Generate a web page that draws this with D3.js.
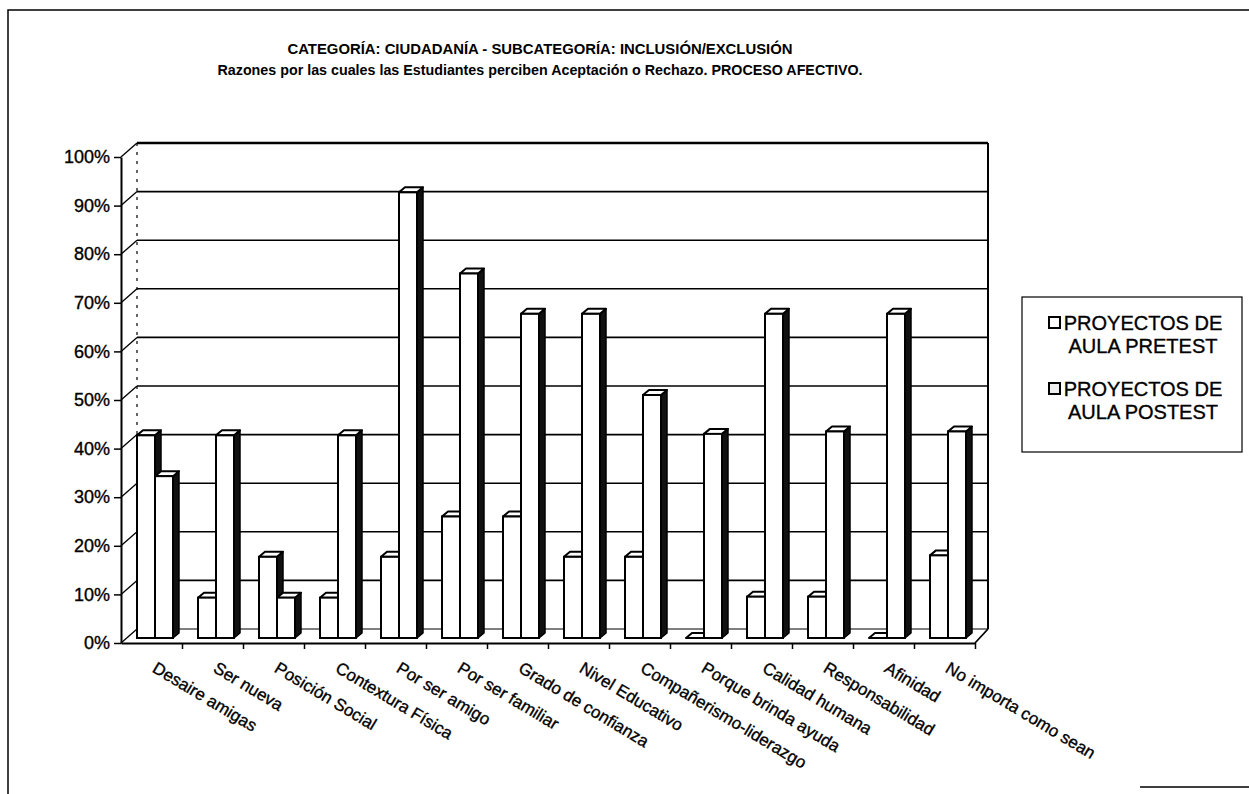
<!DOCTYPE html>
<html>
<head>
<meta charset="utf-8">
<script src="https://cdn.jsdelivr.net/npm/d3@7"></script>
<style>
  body { margin: 0; background: #fff; }
  svg { display: block; font-family: "Liberation Sans", Arial, sans-serif; }
  /* scanned print looks heavier than plain regular weight */
  .heavy { stroke: #000; stroke-width: 0.35px; }
</style>
</head>
<body>
<div id="viz"></div>
<script>
// data
var categories = [
  "Desaire amigas", "Ser nueva", "Posición Social", "Contextura Física",
  "Por ser amigo", "Por ser familiar", "Grado de confianza", "Nivel Educativo",
  "Compañerismo-liderazgo", "Porque brinda ayuda", "Calidad humana",
  "Responsabilidad", "Afinidad", "No importa como sean"
];
var pretest = [41.7, 8.3, 16.7, 8.3, 16.7, 25, 25, 16.7, 16.7, 0, 8.5, 8.5, 0, 17];
var postest = [33.3, 41.7, 8.3, 41.7, 91.7, 75, 66.7, 66.7, 50, 42, 66.7, 42.5, 66.7, 42.5];
var seriesNames = [["PROYECTOS DE", "AULA PRETEST"], ["PROYECTOS DE", "AULA POSTEST"]];
var yTicks = [0, 10, 20, 30, 40, 50, 60, 70, 80, 90, 100];
var titleLines = [
  "CATEGORÍA: CIUDADANÍA - SUBCATEGORÍA: INCLUSIÓN/EXCLUSIÓN",
  "Razones por las cuales las Estudiantes perciben Aceptación o Rechazo. PROCESO AFECTIVO."
];

var W = 1249, H = 794;
var plotLeft = 121, plotRight = 975, plotBase = 643, plotTop = 157;
var wallDx = 16, wallDy = 14;     // depth of the back wall
var barDx = 6, barDy = 5;         // depth of each column
var barBase = 638;

var svg = d3.select("#viz").append("svg").attr("width", W).attr("height", H);

// outer frame (scan: left + top, bit of bottom right)
svg.append("path")
  .attr("d", "M8,794 L8,10 L1249,10 M1140,787 L1249,787")
  .attr("fill", "none").attr("stroke", "#000").attr("stroke-width", 1.5);

// titles
svg.selectAll("text.title")
  .data(titleLines)
  .enter().append("text")
  .attr("class", "title")
  .attr("x", 540)
  .attr("y", function (d, i) { return 54 + i * 21; })
  .attr("text-anchor", "middle")
  .attr("textLength", function (d, i) { return i == 0 ? 505 : 645; })
  .attr("lengthAdjust", "spacingAndGlyphs")
  .style("font-size", "15px")
  .style("font-weight", "bold")
  .text(function (d) { return d; });

// scales
var x = d3.scaleBand().domain(categories).range([plotLeft, plotRight]);
var xEdge = d3.scaleLinear().domain([0, categories.length]).range([plotLeft, plotRight]);
var xs = d3.scaleBand().domain([0, 1]).range([16, 52]);
var yFront = d3.scaleLinear().domain([0, 100]).range([plotBase, plotTop]);
var yBar = d3.scaleLinear().domain([0, 100]).range([barBase, plotTop - 5]);

var backLeft = plotLeft + wallDx, backRight = plotRight + wallDx - 3;

// back wall gridlines + side wall diagonals
var g = svg.append("g");
g.selectAll("line.grid")
  .data(yTicks.slice(1, -1))
  .enter().append("line")
  .attr("x1", backLeft).attr("x2", backRight)
  .attr("y1", function (d) { return yFront(d) - wallDy; })
  .attr("y2", function (d) { return yFront(d) - wallDy; })
  .attr("stroke", "#000").attr("stroke-width", 1.6);

g.selectAll("line.diag")
  .data(yTicks)
  .enter().append("line")
  .attr("x1", plotLeft).attr("x2", backLeft)
  .attr("y1", function (d) { return yFront(d); })
  .attr("y2", function (d) { return yFront(d) - wallDy; })
  .attr("stroke", "#000").attr("stroke-width", 1.3);

// wall edges
g.append("line") // back floor edge
  .attr("x1", backLeft).attr("x2", backRight)
  .attr("y1", plotBase - wallDy).attr("y2", plotBase - wallDy)
  .attr("stroke", "#000").attr("stroke-width", 1.2);
g.append("line") // top of back wall
  .attr("x1", backLeft).attr("x2", backRight)
  .attr("y1", plotTop - wallDy).attr("y2", plotTop - wallDy)
  .attr("stroke", "#000").attr("stroke-width", 2.5);
g.append("line") // left back edge
  .attr("x1", backLeft).attr("x2", backLeft)
  .attr("y1", plotTop - wallDy).attr("y2", plotBase - wallDy)
  .attr("stroke", "#000").attr("stroke-width", 1.2)
  .attr("stroke-dasharray", "3,6");
g.append("line") // right back edge
  .attr("x1", backRight).attr("x2", backRight)
  .attr("y1", plotTop - wallDy).attr("y2", plotBase - wallDy)
  .attr("stroke", "#000").attr("stroke-width", 2);
g.append("line") // floor right diagonal
  .attr("x1", plotRight).attr("x2", backRight)
  .attr("y1", plotBase).attr("y2", plotBase - wallDy)
  .attr("stroke", "#000").attr("stroke-width", 1.8);

// columns
var rows = categories.map(function (c, i) {
  return [{ cat: c, s: 0, v: pretest[i] }, { cat: c, s: 1, v: postest[i] }];
});

var bars = svg.append("g").selectAll("g.cat")
  .data(rows)
  .enter().append("g")
  .attr("class", "cat")
  .selectAll("g.bar")
  .data(function (d) { return d; })
  .enter().append("g")
  .attr("class", "bar");

var bw = xs.bandwidth();

bars.append("path") // side face
  .attr("d", function (d) {
    var x0 = x(d.cat) + xs(d.s) + bw, y0 = yBar(d.v);
    return "M" + x0 + "," + y0 + " L" + (x0 + barDx) + "," + (y0 - barDy) +
      " L" + (x0 + barDx) + "," + (barBase - barDy) + " L" + x0 + "," + barBase + "Z";
  })
  .attr("fill", "#111").attr("stroke", "#000").attr("stroke-width", 1.5)
  .attr("stroke-linejoin", "round");

bars.append("path") // top face
  .attr("d", function (d) {
    var x0 = x(d.cat) + xs(d.s), y0 = yBar(d.v);
    return "M" + x0 + "," + y0 + " L" + (x0 + barDx) + "," + (y0 - barDy) +
      " L" + (x0 + bw + barDx) + "," + (y0 - barDy) + " L" + (x0 + bw) + "," + y0 + "Z";
  })
  .attr("fill", "#fff").attr("stroke", "#000").attr("stroke-width", 2)
  .attr("stroke-linejoin", "round");

bars.append("rect") // front face
  .attr("x", function (d) { return x(d.cat) + xs(d.s); })
  .attr("y", function (d) { return yBar(d.v); })
  .attr("width", bw)
  .attr("height", function (d) { return barBase - yBar(d.v); })
  .attr("fill", "#fff").attr("stroke", "#000").attr("stroke-width", 2);

// y axis
var yAxis = d3.axisLeft(yFront)
  .tickValues(yTicks)
  .tickFormat(function (d) { return d + "%"; })
  .tickSize(7).tickSizeOuter(0).tickPadding(4);

var ya = svg.append("g")
  .attr("transform", "translate(" + plotLeft + ",0)")
  .call(yAxis);
ya.select(".domain").attr("stroke-width", 2);
ya.selectAll(".tick line").attr("stroke-width", 1.5);
ya.selectAll("text")
  .attr("class", "heavy")
  .style("font-size", "18px")
  .style("font-family", "'Liberation Sans', Arial, sans-serif")
  .attr("fill", "#000");

// x axis: ticks on category edges
var xAxis = d3.axisBottom(xEdge)
  .tickValues(d3.range(1, categories.length + 1))
  .tickFormat("")
  .tickSize(6).tickSizeOuter(0);

var xa = svg.append("g")
  .attr("transform", "translate(0," + plotBase + ")")
  .call(xAxis);
xa.select(".domain").attr("stroke-width", 2);
xa.selectAll(".tick line").attr("stroke-width", 1.5);

// rotated category labels
svg.append("g").selectAll("text")
  .data(categories)
  .enter().append("text")
  .attr("class", "heavy")
  .attr("transform", function (d) {
    return "translate(" + (x(d) + x.bandwidth() / 2 + 6) + "," + 661 + ") rotate(31)";
  })
  .attr("dy", "0.71em")
  .style("font-size", "17px")
  .text(function (d) { return d; });

// legend
var lg = svg.append("g");
lg.append("rect")
  .attr("x", 1022).attr("y", 297).attr("width", 220).attr("height", 155)
  .attr("fill", "#fff").attr("stroke", "#000").attr("stroke-width", 1.2);

var items = lg.selectAll("g.item")
  .data(seriesNames)
  .enter().append("g")
  .attr("class", "item")
  .attr("transform", function (d, i) { return "translate(0," + (i * 66) + ")"; });

items.append("rect")
  .attr("x", 1049).attr("y", 317).attr("width", 11).attr("height", 11)
  .attr("fill", function (d, i) { return i == 0 ? "#fff" : "#eee"; })
  .attr("stroke", "#000").attr("stroke-width", 2);

items.selectAll("text")
  .data(function (d) { return d; })
  .enter().append("text")
  .attr("class", "heavy")
  .attr("x", 1143)
  .attr("y", function (d, j) { return 330 + j * 23; })
  .attr("text-anchor", "middle")
  .style("font-size", "20px")
  .text(function (d) { return d; });
</script>
</body>
</html>
